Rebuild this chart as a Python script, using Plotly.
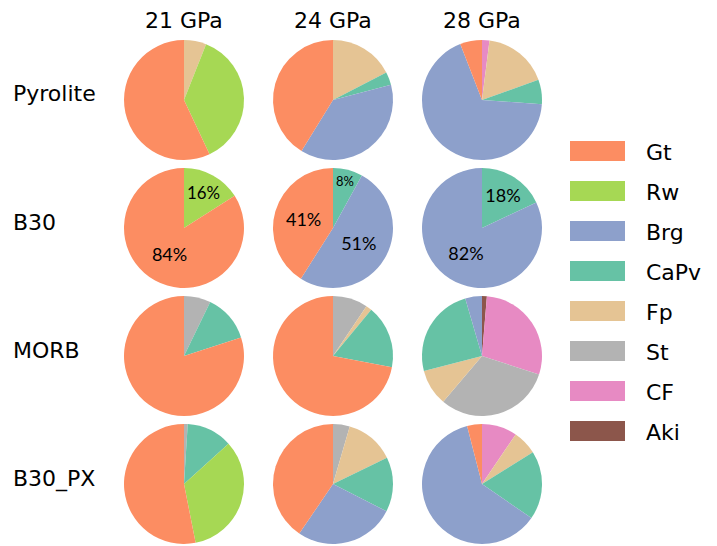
import plotly.graph_objects as go

# ---- data ----
phases = ["Gt", "Rw", "Brg", "CaPv", "Fp", "St", "CF", "Aki"]
phase_colors = ["#fc8d62", "#a6d854", "#8da0cb", "#66c2a5", "#e5c494", "#b3b3b3", "#e78ac3", "#8c564b"]
rocks = ["Pyrolite", "B30", "MORB", "B30_PX"]
pressures = ["21 GPa", "24 GPa", "28 GPa"]

#              Gt    Rw    Brg   CaPv  Fp    St    CF    Aki
pyrolite_21 = [57.0, 37.0, 0.0, 0.0, 6.0, 0.0, 0.0, 0.0]
pyrolite_24 = [41.2, 0.0, 37.9, 3.5, 17.4, 0.0, 0.0, 0.0]
pyrolite_28 = [5.9, 0.0, 68.0, 6.6, 17.5, 0.0, 2.0, 0.0]
b30_21 = [84.0, 16.0, 0.0, 0.0, 0.0, 0.0, 0.0, 0.0]
b30_24 = [41.0, 0.0, 51.0, 8.0, 0.0, 0.0, 0.0, 0.0]
b30_28 = [0.0, 0.0, 82.0, 18.0, 0.0, 0.0, 0.0, 0.0]
morb_21 = [80.0, 0.0, 0.0, 12.8, 0.0, 7.2, 0.0, 0.0]
morb_24 = [72.0, 0.0, 0.0, 17.0, 1.6, 9.4, 0.0, 0.0]
morb_28 = [0.0, 0.0, 4.5, 24.5, 9.8, 31.2, 28.7, 1.3]
b30px_21 = [53.1, 33.6, 0.0, 12.3, 0.0, 1.0, 0.0, 0.0]
b30px_24 = [40.5, 0.0, 27.0, 14.7, 13.3, 4.5, 0.0, 0.0]
b30px_28 = [4.0, 0.0, 61.4, 18.5, 6.6, 0.0, 9.5, 0.0]

grid = [
    [pyrolite_21, pyrolite_24, pyrolite_28],
    [b30_21, b30_24, b30_28],
    [morb_21, morb_24, morb_28],
    [b30px_21, b30px_24, b30px_28],
]
show_pct = [False, True, False, False]

# ---- layout (pixels) ----
W, H = 717, 546
col_cx = [184, 333, 482]
row_cy = [100, 228, 356, 484]
R = 60
FONT = "DejaVu Sans"

fig = go.Figure()
for i, row in enumerate(grid):
    for j, vals in enumerate(row):
        # slices run counterclockwise from 12 o'clock in phase order:
        # feed them reversed and draw clockwise
        items = [(p, v, c) for p, v, c in zip(phases, vals, phase_colors) if v > 0][::-1]
        labs = [t[0] for t in items]
        vs = [t[1] for t in items]
        cols = [t[2] for t in items]
        cx, cy = col_cx[j], row_cy[i]
        fig.add_trace(go.Pie(
            labels=labs, values=vs, sort=False, direction="clockwise", rotation=0,
            marker=dict(colors=cols, line=dict(width=0)),
            textinfo="percent" if show_pct[i] else "none",
            texttemplate="%{percent:.0%}" if show_pct[i] else None,
            textposition="inside" if show_pct[i] else "none",
            insidetextorientation="horizontal",
            textfont=dict(family="Lato", size=18, color="black"),
            hoverinfo="label+percent",
            showlegend=False,
            domain=dict(x=[(cx - R) / W, (cx + R) / W],
                        y=[1 - (cy + R) / H, 1 - (cy - R) / H]),
        ))

annotations = []
for j, p in enumerate(pressures):
    annotations.append(dict(text=p, x=col_cx[j] / W, y=1 - 21 / H, xref="paper", yref="paper",
                            xanchor="center", yanchor="middle", showarrow=False,
                            font=dict(family=FONT, size=22, color="black")))
label_y = [93, 222, 350, 479]
for i, r in enumerate(rocks):
    annotations.append(dict(text=r, x=11 / W, y=1 - label_y[i] / H, xref="paper", yref="paper",
                            xanchor="left", yanchor="middle", showarrow=False,
                            font=dict(family=FONT, size=22, color="black")))

# legend drawn as patches + labels
shapes = []
for k, (p, c) in enumerate(zip(phases, phase_colors)):
    yc = 151 + 40 * k
    shapes.append(dict(type="rect", xref="paper", yref="paper",
                       x0=570 / W, x1=625 / W, y0=1 - (yc + 10) / H, y1=1 - (yc - 10) / H,
                       fillcolor=c, line=dict(width=0)))
    annotations.append(dict(text=p, x=644 / W, y=1 - (yc + 1) / H, xref="paper", yref="paper",
                            xanchor="left", yanchor="middle", showarrow=False,
                            font=dict(family=FONT, size=22, color="black")))

fig.update_layout(
    width=W, height=H, margin=dict(l=0, r=0, t=0, b=0),
    paper_bgcolor="white", plot_bgcolor="white",
    annotations=annotations, shapes=shapes,
)
fig.write_html("out.html")
